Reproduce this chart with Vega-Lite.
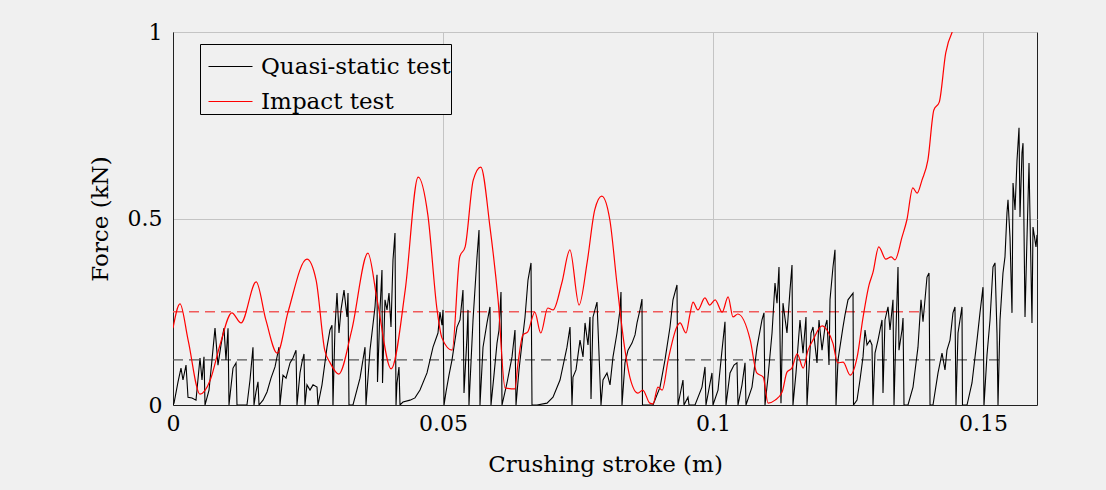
{
  "$schema": "https://vega.github.io/schema/vega-lite/v6.json",
  "width": 864,
  "height": 373,
  "autosize": "none",
  "padding": {"left": 173, "top": 32, "right": 69, "bottom": 85},
  "background": "#f0f0f0",
  "config": {
    "font": "DejaVu Serif",
    "view": {"stroke": "#222222", "strokeWidth": 1, "fill": "#f0f0f0"},
    "axis": {
      "labelFont": "DejaVu Serif", "titleFont": "DejaVu Serif",
      "labelFontSize": 22, "titleFontSize": 23, "titleFontWeight": "normal",
      "labelColor": "#000000", "titleColor": "#000000",
      "gridColor": "#c4c4c4", "gridWidth": 1, "ticks": false,
      "domainColor": "#222222", "labelFlush": false, "labelOverlap": false
    }
  },
  "datasets": {
    "quasi": [
      {"x":0,"y":0},{"x":0.00019,"y":0.005},{"x":0.00093,"y":0.062},{"x":0.00148,"y":0.099},{"x":0.00185,"y":0.067},{"x":0.00241,"y":0.107},{"x":0.00278,"y":0.021},{"x":0.00352,"y":0.019},{"x":0.00426,"y":0.013},{"x":0.005,"y":0.126},{"x":0.00537,"y":0.067},{"x":0.00574,"y":0.129},{"x":0.00593,"y":0},
      {"x":0.00667,"y":0.04},{"x":0.00722,"y":0.121},{"x":0.00778,"y":0.206},{"x":0.00833,"y":0.107},{"x":0.00889,"y":0.161},{"x":0.00944,"y":0.206},{"x":0.00981,"y":0.121},{"x":0.01019,"y":0.206},{"x":0.01037,"y":0},
      {"x":0.01111,"y":0.099},{"x":0.01167,"y":0.113},{"x":0.01185,"y":0},{"x":0.0137,"y":0},{"x":0.01426,"y":0.067},{"x":0.01481,"y":0.155},{"x":0.015,"y":0},{"x":0.01537,"y":0.035},{"x":0.01574,"y":0.062},{"x":0.01593,"y":0},
      {"x":0.01667,"y":0.013},{"x":0.01741,"y":0.035},{"x":0.01815,"y":0.072},{"x":0.01889,"y":0.102},{"x":0.01963,"y":0.155},{"x":0.01981,"y":0},{"x":0.02037,"y":0.08},{"x":0.02093,"y":0.072},{"x":0.02167,"y":0.113},{"x":0.02222,"y":0.126},{"x":0.02278,"y":0.147},{"x":0.02296,"y":0},
      {"x":0.02352,"y":0.086},{"x":0.02389,"y":0.115},{"x":0.02426,"y":0.137},{"x":0.02444,"y":0},{"x":0.02481,"y":0.054},{"x":0.02537,"y":0.04},{"x":0.02593,"y":0.054},{"x":0.02667,"y":0.048},{"x":0.02685,"y":0},
      {"x":0.02759,"y":0.054},{"x":0.02852,"y":0.155},{"x":0.02907,"y":0.201},{"x":0.02944,"y":0.214},{"x":0.02963,"y":0},{"x":0.03,"y":0.209},{"x":0.03037,"y":0.3},{"x":0.03074,"y":0.193},{"x":0.03111,"y":0.255},{"x":0.03167,"y":0.308},{"x":0.03222,"y":0.236},{"x":0.03241,"y":0.3},{"x":0.03259,"y":0},
      {"x":0.03333,"y":0},{"x":0.03463,"y":0.072},{"x":0.03556,"y":0.155},{"x":0.03574,"y":0},{"x":0.03648,"y":0.147},{"x":0.03685,"y":0.193},{"x":0.03741,"y":0.263},{"x":0.03778,"y":0.349},{"x":0.03787,"y":0.062},{"x":0.03833,"y":0.255},{"x":0.0387,"y":0.362},{"x":0.0388,"y":0.059},
      {"x":0.03926,"y":0.282},{"x":0.03963,"y":0.255},{"x":0.04,"y":0.3},{"x":0.04037,"y":0.209},{"x":0.04074,"y":0.389},{"x":0.04111,"y":0.461},{"x":0.0413,"y":0},{"x":0.04148,"y":0.059},{"x":0.04185,"y":0.102},{"x":0.04204,"y":0},
      {"x":0.04259,"y":0.008},{"x":0.04389,"y":0.013},{"x":0.04481,"y":0.019},{"x":0.04574,"y":0.04},{"x":0.04704,"y":0.086},{"x":0.04815,"y":0.155},{"x":0.04907,"y":0.193},{"x":0.04944,"y":0.249},{"x":0.04981,"y":0.214},{"x":0.05,"y":0.255},{"x":0.05019,"y":0},
      {"x":0.05056,"y":0.035},{"x":0.05111,"y":0.08},{"x":0.05167,"y":0.121},{"x":0.05222,"y":0.174},{"x":0.05259,"y":0.209},{"x":0.05315,"y":0.228},{"x":0.0537,"y":0.308},{"x":0.05389,"y":0.032},{"x":0.05444,"y":0.182},{"x":0.05463,"y":0.255},{"x":0.05481,"y":0},
      {"x":0.05556,"y":0.228},{"x":0.0563,"y":0.397},{"x":0.05667,"y":0.469},{"x":0.05685,"y":0},{"x":0.05741,"y":0.155},{"x":0.05815,"y":0.22},{"x":0.0587,"y":0.263},{"x":0.05889,"y":0},{"x":0.05944,"y":0.08},{"x":0.06,"y":0.166},{"x":0.06037,"y":0.201},{"x":0.06074,"y":0.303},{"x":0.06093,"y":0},
      {"x":0.06185,"y":0.059},{"x":0.06278,"y":0.129},{"x":0.06333,"y":0.201},{"x":0.06352,"y":0},{"x":0.06407,"y":0.094},{"x":0.06463,"y":0.166},{"x":0.06519,"y":0.236},{"x":0.06574,"y":0.335},{"x":0.0663,"y":0.381},{"x":0.06648,"y":0},
      {"x":0.06741,"y":0},{"x":0.06926,"y":0.005},{"x":0.07037,"y":0.021},{"x":0.07167,"y":0.067},{"x":0.07296,"y":0.155},{"x":0.07352,"y":0.209},{"x":0.07389,"y":0},{"x":0.07407,"y":0.075},{"x":0.07463,"y":0.094},{"x":0.07537,"y":0.174},{"x":0.07593,"y":0.129},{"x":0.0763,"y":0.22},{"x":0.07685,"y":0.161},{"x":0.07722,"y":0.236},{"x":0.07741,"y":0.016},{"x":0.07778,"y":0.236},{"x":0.07852,"y":0.276},{"x":0.07926,"y":0},
      {"x":0.07963,"y":0.067},{"x":0.08037,"y":0.086},{"x":0.08093,"y":0.054},{"x":0.08148,"y":0.129},{"x":0.08222,"y":0.193},{"x":0.08278,"y":0.255},{"x":0.08296,"y":0.303},{"x":0.08315,"y":0},
      {"x":0.0837,"y":0.113},{"x":0.08426,"y":0.147},{"x":0.085,"y":0.166},{"x":0.08556,"y":0.188},{"x":0.08593,"y":0.22},{"x":0.08648,"y":0.255},{"x":0.08685,"y":0.284},{"x":0.08694,"y":0},
      {"x":0.08889,"y":0},{"x":0.09019,"y":0.048},{"x":0.09111,"y":0.121},{"x":0.09204,"y":0.209},{"x":0.09259,"y":0.282},{"x":0.09333,"y":0.322},{"x":0.09352,"y":0},{"x":0.09444,"y":0.067},{"x":0.09463,"y":0},{"x":0.09537,"y":0.021},{"x":0.09556,"y":0},
      {"x":0.09667,"y":0},{"x":0.09796,"y":0.048},{"x":0.09852,"y":0.102},{"x":0.0987,"y":0},{"x":0.09981,"y":0.086},{"x":0.1,"y":0},{"x":0.10093,"y":0.04},{"x":0.10167,"y":0.147},{"x":0.10222,"y":0.223},{"x":0.10241,"y":0},
      {"x":0.10315,"y":0.086},{"x":0.10389,"y":0.107},{"x":0.10444,"y":0.113},{"x":0.10463,"y":0},{"x":0.10537,"y":0.054},{"x":0.10593,"y":0.113},{"x":0.10611,"y":0},
      {"x":0.10722,"y":0.048},{"x":0.10815,"y":0.155},{"x":0.10907,"y":0.228},{"x":0.10944,"y":0.247},{"x":0.10963,"y":0},{"x":0.11019,"y":0.075},{"x":0.11093,"y":0.193},{"x":0.11148,"y":0.327},{"x":0.11185,"y":0.273},{"x":0.11222,"y":0.37},{"x":0.11259,"y":0.005},
      {"x":0.11296,"y":0.273},{"x":0.1137,"y":0.193},{"x":0.11426,"y":0.308},{"x":0.11463,"y":0.375},{"x":0.11481,"y":0},{"x":0.11537,"y":0.086},{"x":0.11611,"y":0.228},{"x":0.11667,"y":0.139},{"x":0.11722,"y":0.236},{"x":0.11741,"y":0},
      {"x":0.11815,"y":0.193},{"x":0.11852,"y":0.209},{"x":0.11926,"y":0.113},{"x":0.11963,"y":0.228},{"x":0.12019,"y":0.147},{"x":0.12074,"y":0.209},{"x":0.12111,"y":0.228},{"x":0.12148,"y":0.107},{"x":0.12167,"y":0.282},{"x":0.12222,"y":0.37},{"x":0.12259,"y":0.416},{"x":0.12278,"y":0},
      {"x":0.12315,"y":0.121},{"x":0.12407,"y":0.209},{"x":0.12444,"y":0.241},{"x":0.125,"y":0.282},{"x":0.12593,"y":0.3},{"x":0.12602,"y":0},{"x":0.12667,"y":0.013},{"x":0.12722,"y":0.067},{"x":0.12778,"y":0.129},{"x":0.12815,"y":0.201},{"x":0.12852,"y":0.161},{"x":0.12907,"y":0.174},{"x":0.12944,"y":0.161},{"x":0.12963,"y":0},
      {"x":0.13,"y":0.139},{"x":0.13056,"y":0.174},{"x":0.1313,"y":0.228},{"x":0.13148,"y":0.032},{"x":0.13185,"y":0.228},{"x":0.13241,"y":0.263},{"x":0.13278,"y":0.201},{"x":0.13333,"y":0.282},{"x":0.13352,"y":0},{"x":0.13389,"y":0.201},{"x":0.13426,"y":0.37},{"x":0.13444,"y":0.147},{"x":0.135,"y":0.201},{"x":0.13519,"y":0.233},{"x":0.13537,"y":0},
      {"x":0.13611,"y":0},{"x":0.13704,"y":0.048},{"x":0.13796,"y":0.155},{"x":0.13852,"y":0.282},{"x":0.13889,"y":0.223},{"x":0.13963,"y":0.343},{"x":0.14,"y":0.354},{"x":0.14019,"y":0},
      {"x":0.14074,"y":0},{"x":0.14167,"y":0.086},{"x":0.14241,"y":0.139},{"x":0.14296,"y":0.094},{"x":0.14333,"y":0.147},{"x":0.14389,"y":0.174},{"x":0.14444,"y":0.247},{"x":0.14481,"y":0.263},{"x":0.145,"y":0},{"x":0.14537,"y":0.193},{"x":0.14611,"y":0.263},{"x":0.1462,"y":0},
      {"x":0.14704,"y":0},{"x":0.14796,"y":0.059},{"x":0.14889,"y":0.174},{"x":0.14944,"y":0.247},{"x":0.15,"y":0.316},{"x":0.15019,"y":0},{"x":0.15074,"y":0.134},{"x":0.1513,"y":0.228},{"x":0.15185,"y":0.37},{"x":0.15222,"y":0.381},{"x":0.15259,"y":0.193},{"x":0.15278,"y":0},
      {"x":0.15315,"y":0.228},{"x":0.1537,"y":0.354},{"x":0.15407,"y":0.397},{"x":0.15444,"y":0.515},{"x":0.15463,"y":0.55},{"x":0.155,"y":0.45},{"x":0.15537,"y":0.247},{"x":0.15556,"y":0.595},{"x":0.15593,"y":0.523},{"x":0.1563,"y":0.657},{"x":0.15667,"y":0.743},{"x":0.15685,"y":0.504},{"x":0.15722,"y":0.676},{"x":0.15741,"y":0.702},{"x":0.15778,"y":0.236},{"x":0.15815,"y":0.45},{"x":0.15852,"y":0.649},{"x":0.15907,"y":0.22},{"x":0.15926,"y":0.477},{"x":0.15981,"y":0.424},{"x":0.16,"y":0.456}
    ],
    "impact": [
      {"x":0,"y":0.206},{"x":0.0013,"y":0.271},{"x":0.0028,"y":0.174},{"x":0.005,"y":0.029},{"x":0.0069,"y":0.067},{"x":0.0087,"y":0.161},{"x":0.0109,"y":0.247},{"x":0.0126,"y":0.22},{"x":0.0154,"y":0.33},{"x":0.0172,"y":0.228},{"x":0.0193,"y":0.139},{"x":0.0213,"y":0.249},{"x":0.0248,"y":0.391},{"x":0.0265,"y":0.335},{"x":0.0281,"y":0.147},{"x":0.0291,"y":0.113},{"x":0.0307,"y":0.083},{"x":0.0331,"y":0.201},{"x":0.0361,"y":0.407},{"x":0.0378,"y":0.282},{"x":0.0404,"y":0.097},{"x":0.043,"y":0.308},{"x":0.0454,"y":0.611},{"x":0.0472,"y":0.509},{"x":0.0489,"y":0.255},{"x":0.0498,"y":0.18},{"x":0.0517,"y":0.147},{"x":0.0531,"y":0.397},{"x":0.0541,"y":0.424},{"x":0.0556,"y":0.603},{"x":0.057,"y":0.638},{"x":0.0587,"y":0.477},{"x":0.0602,"y":0.282},{"x":0.0615,"y":0.046},{"x":0.0633,"y":0.043},{"x":0.0639,"y":0.113},{"x":0.0648,"y":0.188},{"x":0.0657,"y":0.196},{"x":0.067,"y":0.249},{"x":0.0681,"y":0.193},{"x":0.0694,"y":0.26},{"x":0.0704,"y":0.255},{"x":0.072,"y":0.327},{"x":0.0735,"y":0.416},{"x":0.0752,"y":0.268},{"x":0.0767,"y":0.383},{"x":0.0781,"y":0.523},{"x":0.0794,"y":0.56},{"x":0.0809,"y":0.496},{"x":0.0822,"y":0.327},{"x":0.0837,"y":0.147},{"x":0.0846,"y":0.075},{"x":0.0861,"y":0.032},{"x":0.087,"y":0.04},{"x":0.0883,"y":0.005},{"x":0.0889,"y":0.003},{"x":0.0898,"y":0.048},{"x":0.0906,"y":0.04},{"x":0.0917,"y":0.121},{"x":0.0933,"y":0.209},{"x":0.0939,"y":0.22},{"x":0.095,"y":0.193},{"x":0.0957,"y":0.241},{"x":0.0963,"y":0.276},{"x":0.0972,"y":0.255},{"x":0.0985,"y":0.287},{"x":0.0994,"y":0.268},{"x":0.1004,"y":0.282},{"x":0.1017,"y":0.249},{"x":0.1028,"y":0.29},{"x":0.1037,"y":0.236},{"x":0.1046,"y":0.244},{"x":0.1069,"y":0.174},{"x":0.1081,"y":0.086},{"x":0.1093,"y":0.075},{"x":0.1102,"y":0.005},{"x":0.1115,"y":0.013},{"x":0.1128,"y":0.035},{"x":0.1137,"y":0.088},{"x":0.1146,"y":0.099},{"x":0.1156,"y":0.137},{"x":0.1167,"y":0.099},{"x":0.1176,"y":0.147},{"x":0.1185,"y":0.174},{"x":0.1202,"y":0.212},{"x":0.1211,"y":0.201},{"x":0.1222,"y":0.166},{"x":0.1231,"y":0.113},{"x":0.1241,"y":0.115},{"x":0.1254,"y":0.08},{"x":0.1267,"y":0.129},{"x":0.1278,"y":0.236},{"x":0.1289,"y":0.322},{"x":0.1296,"y":0.354},{"x":0.1307,"y":0.424},{"x":0.132,"y":0.391},{"x":0.133,"y":0.397},{"x":0.1337,"y":0.389},{"x":0.135,"y":0.45},{"x":0.1359,"y":0.496},{"x":0.137,"y":0.582},{"x":0.1378,"y":0.568},{"x":0.1387,"y":0.603},{"x":0.1398,"y":0.657},{"x":0.1409,"y":0.791},{"x":0.1419,"y":0.812},{"x":0.1431,"y":0.944},{"x":0.1443,"y":1.0}
    ]
  },
  "layer": [
    {
      "data": {"values": [{"x": 0, "x2": 0.1393, "y": 0.25}]},
      "mark": {"type": "rule", "color": "#f05a5a", "strokeWidth": 1.3, "strokeDash": [10, 6]},
      "encoding": {
        "x": {"field": "x", "type": "quantitative"},
        "x2": {"field": "x2"},
        "y": {"field": "y", "type": "quantitative"}
      }
    },
    {
      "data": {"values": [{"x": 0, "x2": 0.1537, "y": 0.121}]},
      "mark": {"type": "rule", "color": "#555555", "strokeWidth": 1.3, "strokeDash": [10, 6]},
      "encoding": {
        "x": {"field": "x", "type": "quantitative"},
        "x2": {"field": "x2"},
        "y": {"field": "y", "type": "quantitative"}
      }
    },
    {
      "data": {"name": "quasi"},
      "mark": {"type": "line", "strokeWidth": 1.1, "clip": true},
      "encoding": {
        "x": {"field": "x", "type": "quantitative", "scale": {"domain": [0, 0.16], "nice": false},
          "axis": {"values": [0, 0.05, 0.1, 0.15], "format": "~g", "title": "Crushing stroke (m)", "labelPadding": 8, "titlePadding": 19, "grid": true}},
        "y": {"field": "y", "type": "quantitative", "scale": {"domain": [0, 1], "nice": false},
          "axis": {"values": [0, 0.5, 1], "format": "~g", "title": "Force (kN)", "labelPadding": 11, "titlePadding": 15, "grid": true}},
        "color": {"datum": "Quasi-static test", "type": "nominal",
          "scale": {"domain": ["Quasi-static test", "Impact test"], "range": ["#000000", "#ff0000"]},
          "legend": {"title": null, "orient": "none", "legendX": 27, "legendY": 12, "symbolType": "stroke", "symbolSize": 1936, "symbolStrokeWidth": 1, "symbolOffset": 8, "labelFont": "DejaVu Serif", "labelFontSize": 23, "labelLimit": 400, "labelExpr": "datum.label + '\u00a0\u00a0'", "labelColor": "#000000", "labelOffset": 8, "padding": 0, "rowPadding": -11, "strokeColor": "#000000", "fillColor": "#f0f0f0", "cornerRadius": 0}}
      }
    },
    {
      "data": {"name": "impact"},
      "mark": {"type": "line", "strokeWidth": 1.2, "interpolate": "monotone", "clip": true},
      "encoding": {
        "x": {"field": "x", "type": "quantitative"},
        "y": {"field": "y", "type": "quantitative"},
        "color": {"datum": "Impact test", "type": "nominal"}
      }
    }
  ]
}
